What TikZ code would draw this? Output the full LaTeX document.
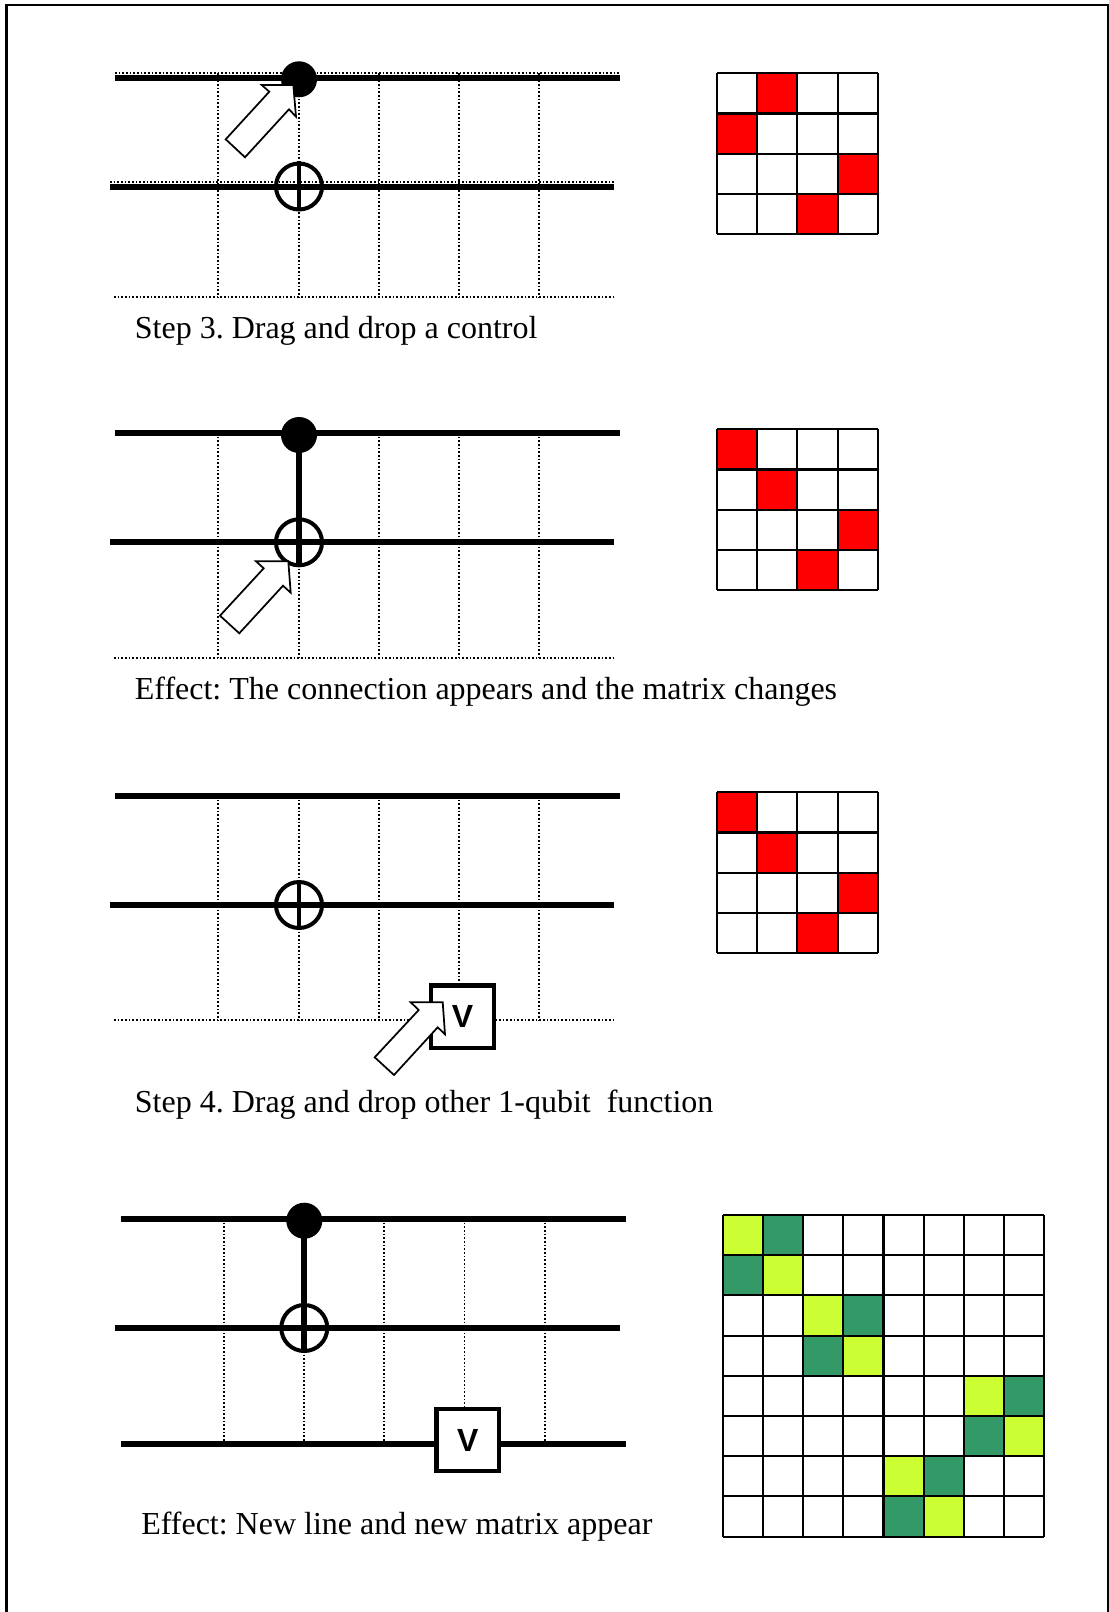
\documentclass[tikz,border=0pt]{standalone}
\usepackage{fontspec}
\setmainfont{Liberation Serif}
\newfontfamily\vfont{Liberation Sans}[BoldFont={Liberation Sans Bold}]
\frenchspacing
\tikzset{
  wire/.style={line width=4.3pt,line cap=butt},
  dots/.style={line width=1.25pt,dash pattern=on 1.25pt off 1.5pt},
  framestroke/.style={line width=1.6pt},
  ctrl/.style={circle,fill=black,draw=none,inner sep=0pt,minimum size=27pt},
  xor/.style={circle,draw=black,line width=3pt,inner sep=0pt,minimum size=34.5pt},
  vbox/.style={rectangle,draw=black,fill=white,line width=3.2pt,inner sep=0pt,font=\vfont\bfseries\fontsize{24}{28}\selectfont},
  pointer/.style={draw=black,fill=white,line width=1.3pt,line join=miter},
  caption/.style={anchor=base west,inner sep=0pt,font=\fontsize{24}{28}\selectfont},
  gridline/.style={draw=black,line width=1.6pt,line cap=square},
}
\newcommand{\mygrid}[5]{% x, y, n, cell, tag
  \foreach \i in {0,...,#3}{
    \coordinate (#5h\i a) at (#1,{#2+\i*#4});
    \coordinate (#5h\i b) at ({#1+#3*#4},{#2+\i*#4});
    \coordinate (#5v\i a) at ({#1+\i*#4},#2);
    \coordinate (#5v\i b) at ({#1+\i*#4},{#2+#3*#4});
    \draw[gridline] (#5h\i a) -- (#5h\i b);
    \draw[gridline] (#5v\i a) -- (#5v\i b);
  }
}
\newcommand{\mycell}[6]{% x, y, cell, col, row, colour
  \fill[#6] ({#1+(#4)*#3},{#2+(#5)*#3}) rectangle ++(#3,#3);
}
\newcommand{\myverticals}[4]{% tag, x shift, y top, y bottom
  \foreach \k/\xx in {1/218.3,2/298.7,3/378.7,4/459,5/539.3}{
    \coordinate (#1t\k) at ({\xx+#2},#3);
    \coordinate (#1b\k) at ({\xx+#2},#4);
    \draw[dots] (#1t\k) -- (#1b\k);
  }
}
\definecolor{mred}{HTML}{FF0000}
\definecolor{myel}{HTML}{CCFF33}
\definecolor{mgrn}{HTML}{339966}
\begin{document}
\begin{tikzpicture}[x=0.75pt,y=-0.75pt]
\useasboundingbox (0,0) rectangle (1109,1612);
% frame
\coordinate (fa) at (6.5,1612);
\coordinate (fb) at (6.5,5);
\coordinate (fc) at (1108,5);
\coordinate (fd) at (1108,1612);
\draw[framestroke] (fa) -- (fb) -- (fc) -- (fd);

% ---- panel 1
\myverticals{p}{0}{73}{297}
\coordinate (pda) at (115,73); \coordinate (pdb) at (620,73);
\coordinate (pdc) at (110,182); \coordinate (pdd) at (614,182);
\coordinate (pde) at (114,297); \coordinate (pdf) at (613,297);
\draw[dots] (pda) -- (pdb);
\draw[dots] (pdc) -- (pdd);
\draw[dots] (pde) -- (pdf);
\coordinate (pwa) at (115,77.8); \coordinate (pwb) at (620,77.8);
\coordinate (pwc) at (110,186.8); \coordinate (pwd) at (614,186.8);
\draw[wire] (pwa) -- (pwb);
\draw[wire] (pwc) -- (pwd);
\node[ctrl] (pt) at (299,79.3) {};
\node[xor] (px) at (299,186.5) {};
\draw[line width=2.8pt] (px.north) -- (px.south);
\draw[pointer] (293.3,85) -- (261.7,85) -- (269.3,91.7) -- (225.7,139.3) -- (245,157.3) -- (289,109.3) -- (296,116.7) -- cycle;
\node[caption] (pc) at (134.6,338) {Step 3. Drag and drop a control};

% ---- panel 2
\myverticals{q}{0}{433}{658.3}
\coordinate (qde) at (114,658.3); \coordinate (qdf) at (613,658.3);
\draw[dots] (qde) -- (qdf);
\coordinate (qwa) at (115,433.3); \coordinate (qwb) at (620,433.3);
\coordinate (qwc) at (110,542.3); \coordinate (qwd) at (614,542.3);
\draw[wire] (qwa) -- (qwb);
\draw[wire] (qwc) -- (qwd);
\node[ctrl] (qt) at (299,435) {};
\node[xor] (qx) at (299,542.3) {};
\draw[wire] (qt.center) -- (qx.south);
\draw[pointer] (288.3,561.3) -- (256,561.3) -- (263.7,568.3) -- (220,615.7) -- (239.3,633.3) -- (283,585.7) -- (290.7,592.7) -- cycle;
\node[caption] (qc) at (134.6,699) {Effect: The connection appears and the matrix changes};

% ---- panel 3
\myverticals{r}{0}{796}{1019.7}
\coordinate (rde) at (114,1019.7); \coordinate (rdf) at (613,1019.7);
\draw[dots] (rde) -- (rdf);
\coordinate (rwa) at (115,796.3); \coordinate (rwb) at (620,796.3);
\coordinate (rwc) at (110,905); \coordinate (rwd) at (614,905);
\draw[wire] (rwa) -- (rwb);
\draw[wire] (rwc) -- (rwd);
\node[xor] (rx) at (299,905) {};
\draw[line width=2.8pt] (rx.north) -- (rx.south);
\node[vbox,minimum size=47pt] (rv) at (462.5,1016.7) {V};
\draw[pointer] (410.7,1002.3) -- (442.7,1002.3) -- (445,1034.3) -- (437.7,1027.3) -- (394,1075) -- (374.7,1057.3) -- (418.7,1010) -- cycle;
\node[caption] (rc) at (134.6,1112) {Step 4. Drag and drop other 1-qubit\ \ function};

% ---- panel 4
\myverticals{s}{5.5}{1219}{1444}
\coordinate (swa) at (120.7,1219); \coordinate (swb) at (625.7,1219);
\coordinate (swc) at (115,1328); \coordinate (swd) at (620,1328);
\coordinate (swe) at (120.7,1444.3); \coordinate (swf) at (625.7,1444.3);
\draw[wire] (swa) -- (swb);
\draw[wire] (swc) -- (swd);
\draw[wire] (swe) -- (swf);
\node[ctrl] (st) at (304.3,1220.7) {};
\node[xor] (sx) at (304.3,1328) {};
\draw[wire] (st.center) -- (sx.south);
\node[vbox,minimum size=47pt] (sv) at (467.8,1440) {V};
\node[caption] (sc) at (141,1534) {Effect: New line and new matrix appear};

% ---- matrices
\mycell{717}{73.3}{40.2}{1}{0}{mred}
\mycell{717}{73.3}{40.2}{0}{1}{mred}
\mycell{717}{73.3}{40.2}{3}{2}{mred}
\mycell{717}{73.3}{40.2}{2}{3}{mred}
\mygrid{717}{73.3}{4}{40.2}{ma}
\mycell{717}{429.3}{40.2}{0}{0}{mred}
\mycell{717}{429.3}{40.2}{1}{1}{mred}
\mycell{717}{429.3}{40.2}{3}{2}{mred}
\mycell{717}{429.3}{40.2}{2}{3}{mred}
\mygrid{717}{429.3}{4}{40.2}{mb}
\mycell{717}{792.3}{40.2}{0}{0}{mred}
\mycell{717}{792.3}{40.2}{1}{1}{mred}
\mycell{717}{792.3}{40.2}{3}{2}{mred}
\mycell{717}{792.3}{40.2}{2}{3}{mred}
\mygrid{717}{792.3}{4}{40.2}{mc}
\foreach \cx/\cy in {0/0,2/2,6/4,4/6}{
  \mycell{722.7}{1215}{40.2}{\cx}{\cy}{myel}
  \mycell{722.7}{1215}{40.2}{\cx+1}{\cy+1}{myel}
  \mycell{722.7}{1215}{40.2}{\cx+1}{\cy}{mgrn}
  \mycell{722.7}{1215}{40.2}{\cx}{\cy+1}{mgrn}
}
\mygrid{722.7}{1215}{8}{40.2}{md}
\end{tikzpicture}
\end{document}
